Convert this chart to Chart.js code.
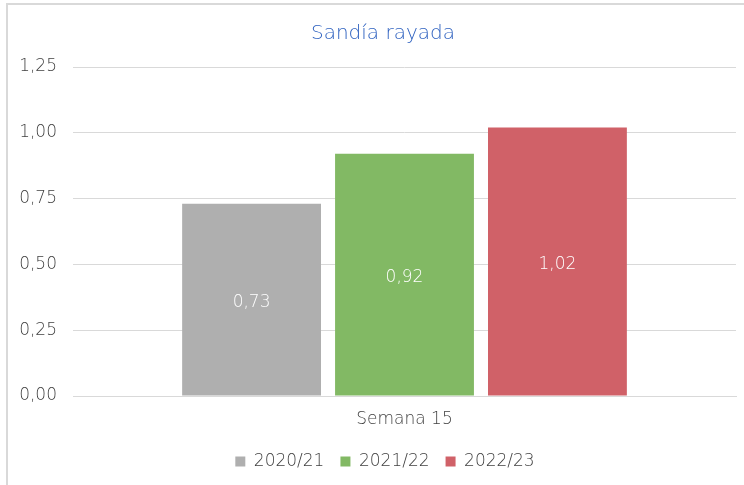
<!DOCTYPE html>
<html>
<head>
<meta charset="utf-8">
<script src="https://cdn.jsdelivr.net/npm/chart.js@4"></script>
<style>
  html, body { margin: 0; padding: 0; background: #fff; overflow: hidden; }
  #wrap { position: relative; width: 744px; height: 485px; }
  #frame {
    position: absolute; left: 6px; top: 3px; width: 760px; height: 500px;
    border-left: 2px solid #d9d9d9; border-top: 2px solid #d9d9d9;
    pointer-events: none;
  }
  canvas { position: absolute; left: 0; top: 0; }
</style>
</head>
<body>
<div id="wrap">
  <canvas id="chart" width="744" height="485"></canvas>
  <div id="frame"></div>
</div>
<script>
// datos
const categories = ["Semana 15"];
const seasons = ["2020/21", "2021/22", "2022/23"];
const values2020 = [0.73];
const values2021 = [0.92];
const values2022 = [1.02];
const yTicks = [0, 0.25, 0.5, 0.75, 1, 1.25];

const colors = ["#afafaf", "#82b964", "#d06168"];
const FONT = "'DejaVu Sans', sans-serif";
const WEIGHT = 300;
const TEXT = "#3f3f3f";

const fmt = v => v.toFixed(2).replace(".", ",");

// etiquetas de datos dentro de las barras
const barLabels = {
  id: "barLabels",
  afterDatasetsDraw(chart) {
    const ctx = chart.ctx;
    ctx.save();
    ctx.font = WEIGHT + " 17px " + FONT;
    ctx.fillStyle = "#ffffff";
    ctx.textAlign = "center";
    ctx.textBaseline = "middle";
    chart.data.datasets.forEach((ds, i) => {
      chart.getDatasetMeta(i).data.forEach((bar, j) => {
        const y = (bar.y + bar.base) / 2 + 3;
        ctx.fillText(fmt(ds.data[j]), bar.x, y);
      });
    });
    ctx.restore();
  }
};

// título y leyenda van algo desplazados a la derecha en el original
const shiftBoxes = {
  id: "shiftBoxes",
  afterLayout(chart) {
    const t = chart.titleBlock;
    if (t) { t.left += 15; t.right += 15; }
    const l = chart.legend;
    if (l) { l.left += 17; l.right += 17; }
  }
};

new Chart(document.getElementById("chart").getContext("2d"), {
  type: "bar",
  data: {
    labels: categories,
    datasets: [
      { label: seasons[0], data: values2020, backgroundColor: colors[0] },
      { label: seasons[1], data: values2021, backgroundColor: colors[1] },
      { label: seasons[2], data: values2022, backgroundColor: colors[2] }
    ]
  },
  options: {
    responsive: false,
    animation: false,
    categoryPercentage: 0.692,
    barPercentage: 0.908,
    layout: { padding: { left: 0, right: 8, top: 0, bottom: 5 } },
    plugins: {
      title: {
        display: true,
        text: "Sandía rayada",
        color: "#2f62c0",
        font: { family: FONT, size: 20, weight: WEIGHT },
        padding: { top: 22, bottom: 21 }
      },
      legend: {
        position: "bottom",
        labels: {
          color: TEXT,
          font: { family: FONT, size: 17, weight: WEIGHT },
          boxWidth: 10,
          boxHeight: 10,
          padding: 16
        }
      },
      tooltip: { enabled: false }
    },
    scales: {
      x: {
        afterFit(scale) { scale.height = 41; },
        grid: { display: false, drawTicks: false },
        border: { color: "#d9d9d9", width: 1 },
        ticks: { color: TEXT, font: { family: FONT, size: 17, weight: WEIGHT }, padding: 13 }
      },
      y: {
        min: 0,
        max: 1.25,
        afterFit(scale) { scale.width = 73; },
        afterBuildTicks(scale) { scale.ticks = yTicks.map(v => ({ value: v })); },
        border: { display: false },
        grid: { color: "#d9d9d9", drawTicks: false },
        ticks: {
          color: TEXT,
          font: { family: FONT, size: 17, weight: WEIGHT },
          padding: 16,
          callback: v => fmt(v)
        }
      }
    }
  },
  plugins: [barLabels, shiftBoxes]
});
</script>
</body>
</html>
